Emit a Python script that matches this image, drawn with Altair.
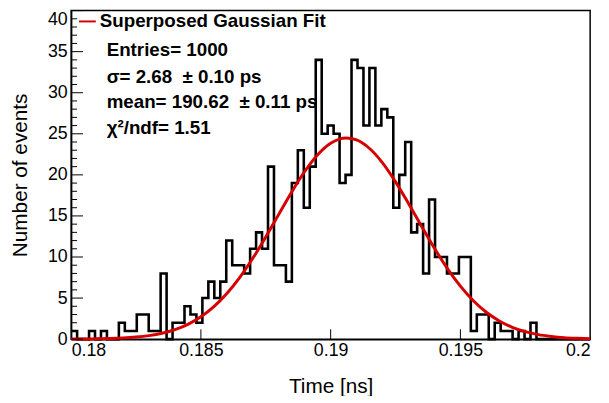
import altair as alt
import pandas as pd

# ---------------- data ----------------
x_min, x_max = 0.18, 0.2
counts = [1, 0, 0, 1, 0, 1, 0, 0, 2, 1,
          1, 3, 3, 1, 1, 8, 0, 2, 2, 4,
          3, 2, 5, 7, 5, 7, 12, 9, 9, 8,
          11, 13, 11, 21, 9, 9, 7, 19, 23, 16,
          21, 34, 25, 26, 25, 19, 20, 34, 33, 26,
          33, 26, 28, 27, 16, 20, 24, 13, 14, 8,
          17, 10, 10, 8, 8, 10, 10, 1, 3, 3,
          0, 2, 1, 1, 0, 1, 0, 2, 0, 0,
          0, 0, 0, 0, 0, 0, 0]

fit_t = [0.180, 0.1805, 0.181, 0.1815, 0.182, 0.1825, 0.183, 0.1835, 0.184, 0.1845,
         0.185, 0.1855, 0.186, 0.1865, 0.187, 0.1875, 0.188, 0.1885, 0.189, 0.1895,
         0.190, 0.1906, 0.191, 0.1915, 0.192, 0.1925, 0.193, 0.1935, 0.194, 0.1945,
         0.195, 0.1955, 0.196, 0.1965, 0.197, 0.1975, 0.198, 0.1985, 0.199, 0.1995, 0.200]
fit_n = [0.01, 0.02, 0.04, 0.07, 0.14, 0.25, 0.43, 0.72, 1.16, 1.80,
         2.72, 3.95, 5.55, 7.52, 9.84, 12.44, 15.19, 17.92, 20.41, 22.45,
         23.85, 24.5, 24.25, 23.21, 21.46, 19.15, 16.52, 13.75, 11.06, 8.59,
         6.45, 4.67, 3.27, 2.21, 1.44, 0.91, 0.55, 0.33, 0.18, 0.10, 0.05]

legend_label = "Superposed Gaussian Fit"
stats_lines = ["Entries= 1000", "σ= 2.68\u00a0 ± 0.10 ps", "mean= 190.62\u00a0 ± 0.11 ps", "χ²/ndf= 1.51"]

x_label_values = [0.18, 0.185, 0.19, 0.195, 0.2]
x_tick_values = [0.185, 0.19, 0.195]
y_major = [0, 5, 10, 15, 20, 25, 30, 35, 40]
y_minor = [v for v in range(41) if v % 5 != 0]

# ---------------- build tables ----------------
W, H = 526, 333
FONT = "Liberation Sans"
bin_width = (x_max - x_min) / len(counts)
edges = [x_min + i * bin_width for i in range(len(counts) + 1)]
hist_df = pd.DataFrame({"t": edges, "n": counts + [counts[-1]]})
fit_df = pd.DataFrame({"t": fit_t, "n": fit_n})
ymaj_df = pd.DataFrame({"n": y_major})
ymin_df = pd.DataFrame({"n": y_minor})
xmaj_df = pd.DataFrame({"t": x_tick_values})

xscale = alt.Scale(domain=[x_min, x_max], nice=False, zero=False)
yscale = alt.Scale(domain=[0, 40], nice=False, zero=False)
x_axis = alt.Axis(values=x_label_values, format="~f", title="Time [ns]",
                  labelPadding=3, titlePadding=16)
y_axis = alt.Axis(values=y_major, title="Number of events",
                  labelPadding=4, titlePadding=17,
                  labelBaseline={"condition": {"test": "datum.value == 40", "value": "top"},
                                 "value": "middle"})
X = alt.X("t:Q", scale=xscale, axis=x_axis)
Y = alt.Y("n:Q", scale=yscale, axis=y_axis)

hist = alt.Chart(hist_df).mark_line(
    interpolate="step-after", color="black", strokeWidth=2.6
).encode(x=X, y=Y)

fit = alt.Chart(fit_df).mark_line(
    color="#d60000", strokeWidth=3, interpolate="monotone"
).encode(x=X, y=Y)

ymaj = alt.Chart(ymaj_df).mark_rule(color="black", strokeWidth=1).encode(
    y=Y, x=alt.value(0), x2=alt.value(12))
ymin = alt.Chart(ymin_df).mark_rule(color="black", strokeWidth=1).encode(
    y=Y, x=alt.value(0), x2=alt.value(6))
xmaj = alt.Chart(xmaj_df).mark_rule(color="black", strokeWidth=1).encode(
    x=X, y=alt.value(H), y2=alt.value(H - 10))

leg_line = alt.Chart(pd.DataFrame({"k": [0]})).mark_rule(color="#d60000", strokeWidth=2).encode(
    x=alt.value(8), x2=alt.value(25), y=alt.value(11))
leg_text = alt.Chart(pd.DataFrame({"s": [legend_label]})).mark_text(
    align="left", baseline="middle", font=FONT, fontSize=19, fontWeight="bold", color="black"
).encode(x=alt.value(29), y=alt.value(11), text="s:N")

stat_layers = []
for line, ypos in zip(stats_lines, [40, 67, 93, 119]):
    stat_layers.append(
        alt.Chart(pd.DataFrame({"s": [line]})).mark_text(
            align="left", baseline="middle", font=FONT, fontSize=19, fontWeight="bold", color="black"
        ).encode(x=alt.value(36), y=alt.value(ypos), text="s:N")
    )

chart = alt.layer(hist, fit, ymaj, ymin, xmaj, leg_line, leg_text, *stat_layers).properties(
    width=W, height=H,
    autosize=alt.AutoSizeParams(type="none"),
    padding={"left": 64, "top": 0, "right": 11, "bottom": 55},
    background="white",
).configure_view(
    stroke="black", strokeWidth=1.5
).configure_axis(
    domainColor="black", domainWidth=1.5, ticks=False, grid=False,
    labelFont=FONT, labelFontSize=18, labelColor="black",
    titleFont=FONT, titleFontSize=21, titleFontWeight="normal", titleColor="black",
)

chart.save("out.html", embed_options={"renderer": "svg", "actions": False})
